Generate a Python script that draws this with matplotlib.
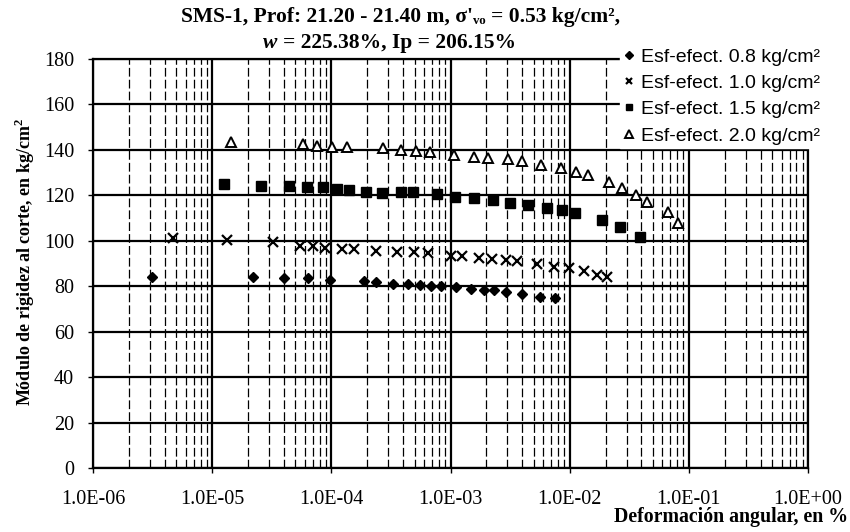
import matplotlib
matplotlib.use('Agg')
import matplotlib.pyplot as plt
from matplotlib.ticker import FuncFormatter, FixedLocator, LogLocator, NullFormatter

# datos
x_08 = [3.1e-6, 2.19e-5, 4.03e-5, 6.4e-5, 9.7e-5, 1.89e-4, 2.37e-4, 3.3e-4, 4.4e-4, 5.6e-4,
        6.9e-4, 8.4e-4, 1.11e-3, 1.48e-3, 1.91e-3, 2.33e-3, 2.92e-3, 3.95e-3, 5.65e-3, 7.6e-3]
g_08 = [84.2, 84.2, 83.8, 83.5, 82.7, 82.3, 81.7, 81.0, 80.9, 80.5,
        80.2, 80.2, 79.8, 78.8, 78.3, 78.3, 77.3, 76.4, 75.4, 74.7]

x_10 = [4.72e-6, 1.32e-5, 3.27e-5, 5.46e-5, 6.97e-5, 8.8e-5, 1.22e-4, 1.55e-4, 2.37e-4, 3.58e-4,
        4.94e-4, 6.52e-4, 1.0e-3, 1.26e-3, 1.74e-3, 2.24e-3, 2.92e-3, 3.6e-3, 5.35e-3, 7.4e-3,
        9.93e-3, 1.33e-2, 1.69e-2, 2.05e-2]
g_10 = [101.4, 100.4, 99.3, 97.8, 97.8, 97.0, 96.4, 96.4, 95.7, 95.2,
        94.9, 94.5, 93.4, 93.4, 92.3, 92.0, 91.5, 91.2, 89.7, 88.3,
        87.9, 86.7, 84.9, 83.9]

x_15 = [1.26e-5, 2.56e-5, 4.45e-5, 6.2e-5, 8.5e-5, 1.11e-4, 1.40e-4, 1.94e-4, 2.65e-4, 3.82e-4,
        4.8e-4, 7.66e-4, 1.09e-3, 1.56e-3, 2.28e-3, 3.15e-3, 4.5e-3, 6.4e-3, 8.6e-3, 1.10e-2,
        1.86e-2, 2.65e-2, 3.89e-2]
g_15 = [124.9, 124.3, 124.3, 123.8, 123.8, 122.8, 122.4, 121.3, 120.9, 121.6,
        121.3, 120.4, 119.4, 119.0, 118.0, 116.8, 115.8, 114.3, 113.6, 112.4,
        109.2, 105.9, 101.8]

x_20 = [1.44e-5, 5.82e-5, 7.63e-5, 1.01e-4, 1.35e-4, 2.70e-4, 3.82e-4, 5.13e-4, 6.72e-4, 1.06e-3,
        1.56e-3, 2.08e-3, 3.05e-3, 4.0e-3, 5.74e-3, 8.4e-3, 1.13e-2, 1.42e-2, 2.15e-2, 2.73e-2,
        3.6e-2, 4.48e-2, 6.72e-2, 8.16e-2]
g_20 = [143.6, 142.6, 141.9, 141.4, 141.1, 141.0, 140.0, 139.5, 138.9, 137.8,
        136.8, 136.3, 136.0, 135.3, 133.4, 131.9, 130.4, 129.0, 126.0, 123.4,
        120.2, 116.9, 112.5, 107.7]

decadas = [1e-6, 1e-5, 1e-4, 1e-3, 1e-2, 1e-1, 1e0]
etiquetas = ['Esf-efect. 0.8 kg/cm²', 'Esf-efect. 1.0 kg/cm²',
             'Esf-efect. 1.5 kg/cm²', 'Esf-efect. 2.0 kg/cm²']

serif = ['Liberation Serif', 'DejaVu Serif']

fig = plt.figure(figsize=(8.5, 5.32), dpi=100)
ax = fig.add_axes([93 / 850, 1 - 468 / 532, 715 / 850, 409 / 532])

ax.set_xscale('log')
ax.set_xlim(1e-6, 1.0)
ax.set_ylim(0, 180)
ax.set_yticks(range(0, 181, 20))

ax.xaxis.set_major_locator(FixedLocator(decadas))
ax.xaxis.set_minor_locator(LogLocator(base=10, subs=range(2, 10), numticks=20))
ax.xaxis.set_minor_formatter(NullFormatter())
ax.xaxis.set_major_formatter(FuncFormatter(lambda v, p: '%.1E' % v))

ax.grid(which='major', axis='both', color='black', linewidth=1.6)
ax.grid(which='minor', axis='x', color='black', linewidth=0.9, linestyle=(0, (7, 2.5)))
ax.set_axisbelow(True)

ax.plot(x_08, g_08, 'D', color='black', ms=5.5, linestyle='none', label=etiquetas[0])
ax.plot(x_10, g_10, 'x', color='black', ms=7, mew=1.6, linestyle='none', label=etiquetas[1])
ax.plot(x_15, g_15, 's', color='black', ms=6.5, linestyle='none', label=etiquetas[2])
ax.plot(x_20, g_20, '^', mfc='white', mec='black', ms=7.5, mew=1.4, linestyle='none',
        label=etiquetas[3])

for s in ax.spines.values():
    s.set_linewidth(1.6)

ax.tick_params(which='major', direction='out', length=3.5, width=1, labelsize=14.5)
ax.tick_params(axis='x', which='major', pad=12)
ax.tick_params(axis='y', which='major', pad=10)
ax.tick_params(which='minor', length=0)
for lab in ax.get_xticklabels() + ax.get_yticklabels():
    lab.set_family(serif)

leg = ax.legend(loc='upper left', bbox_to_anchor=(620 / 850, 1 - 44 / 532),
                bbox_transform=fig.transFigure, frameon=True, framealpha=1,
                facecolor='white', edgecolor='white', fancybox=False,
                handlelength=0.5, handletextpad=0.4, labelspacing=0.45,
                borderpad=0.2, borderaxespad=0, markerscale=0.7,
                prop={'family': 'Liberation Sans', 'size': 14})
leg.set_zorder(10)

# titulo en dos renglones
fig.text(401 / 850, 1 - 17 / 532, "SMS-1, Prof: 21.20 - 21.40 m, σ'ᵥₒ = 0.53 kg/cm²,",
         ha='center', va='center', family=serif, fontweight='bold', fontsize=15.5)
fig.text(263 / 850, 1 - 43 / 532, 'w', ha='left', va='center', family=serif,
         fontweight='bold', fontstyle='italic', fontsize=15.5)
fig.text(283 / 850, 1 - 43 / 532, '= 225.38%, Ip = 206.15%', ha='left', va='center',
         family=serif, fontweight='bold', fontsize=15.5)

fig.text(25 / 850, 1 - 262 / 532, 'Módulo de rigidez al corte, en kg/cm$^\\mathregular{2}$',
         rotation=90, ha='center', va='center', family=serif, fontweight='bold', fontsize=13)
fig.text(848 / 850, 1 - 517 / 532, 'Deformación angular, en %', ha='right', va='center',
         family=serif, fontweight='bold', fontsize=14.3)

fig.savefig('out.png', dpi=100)
